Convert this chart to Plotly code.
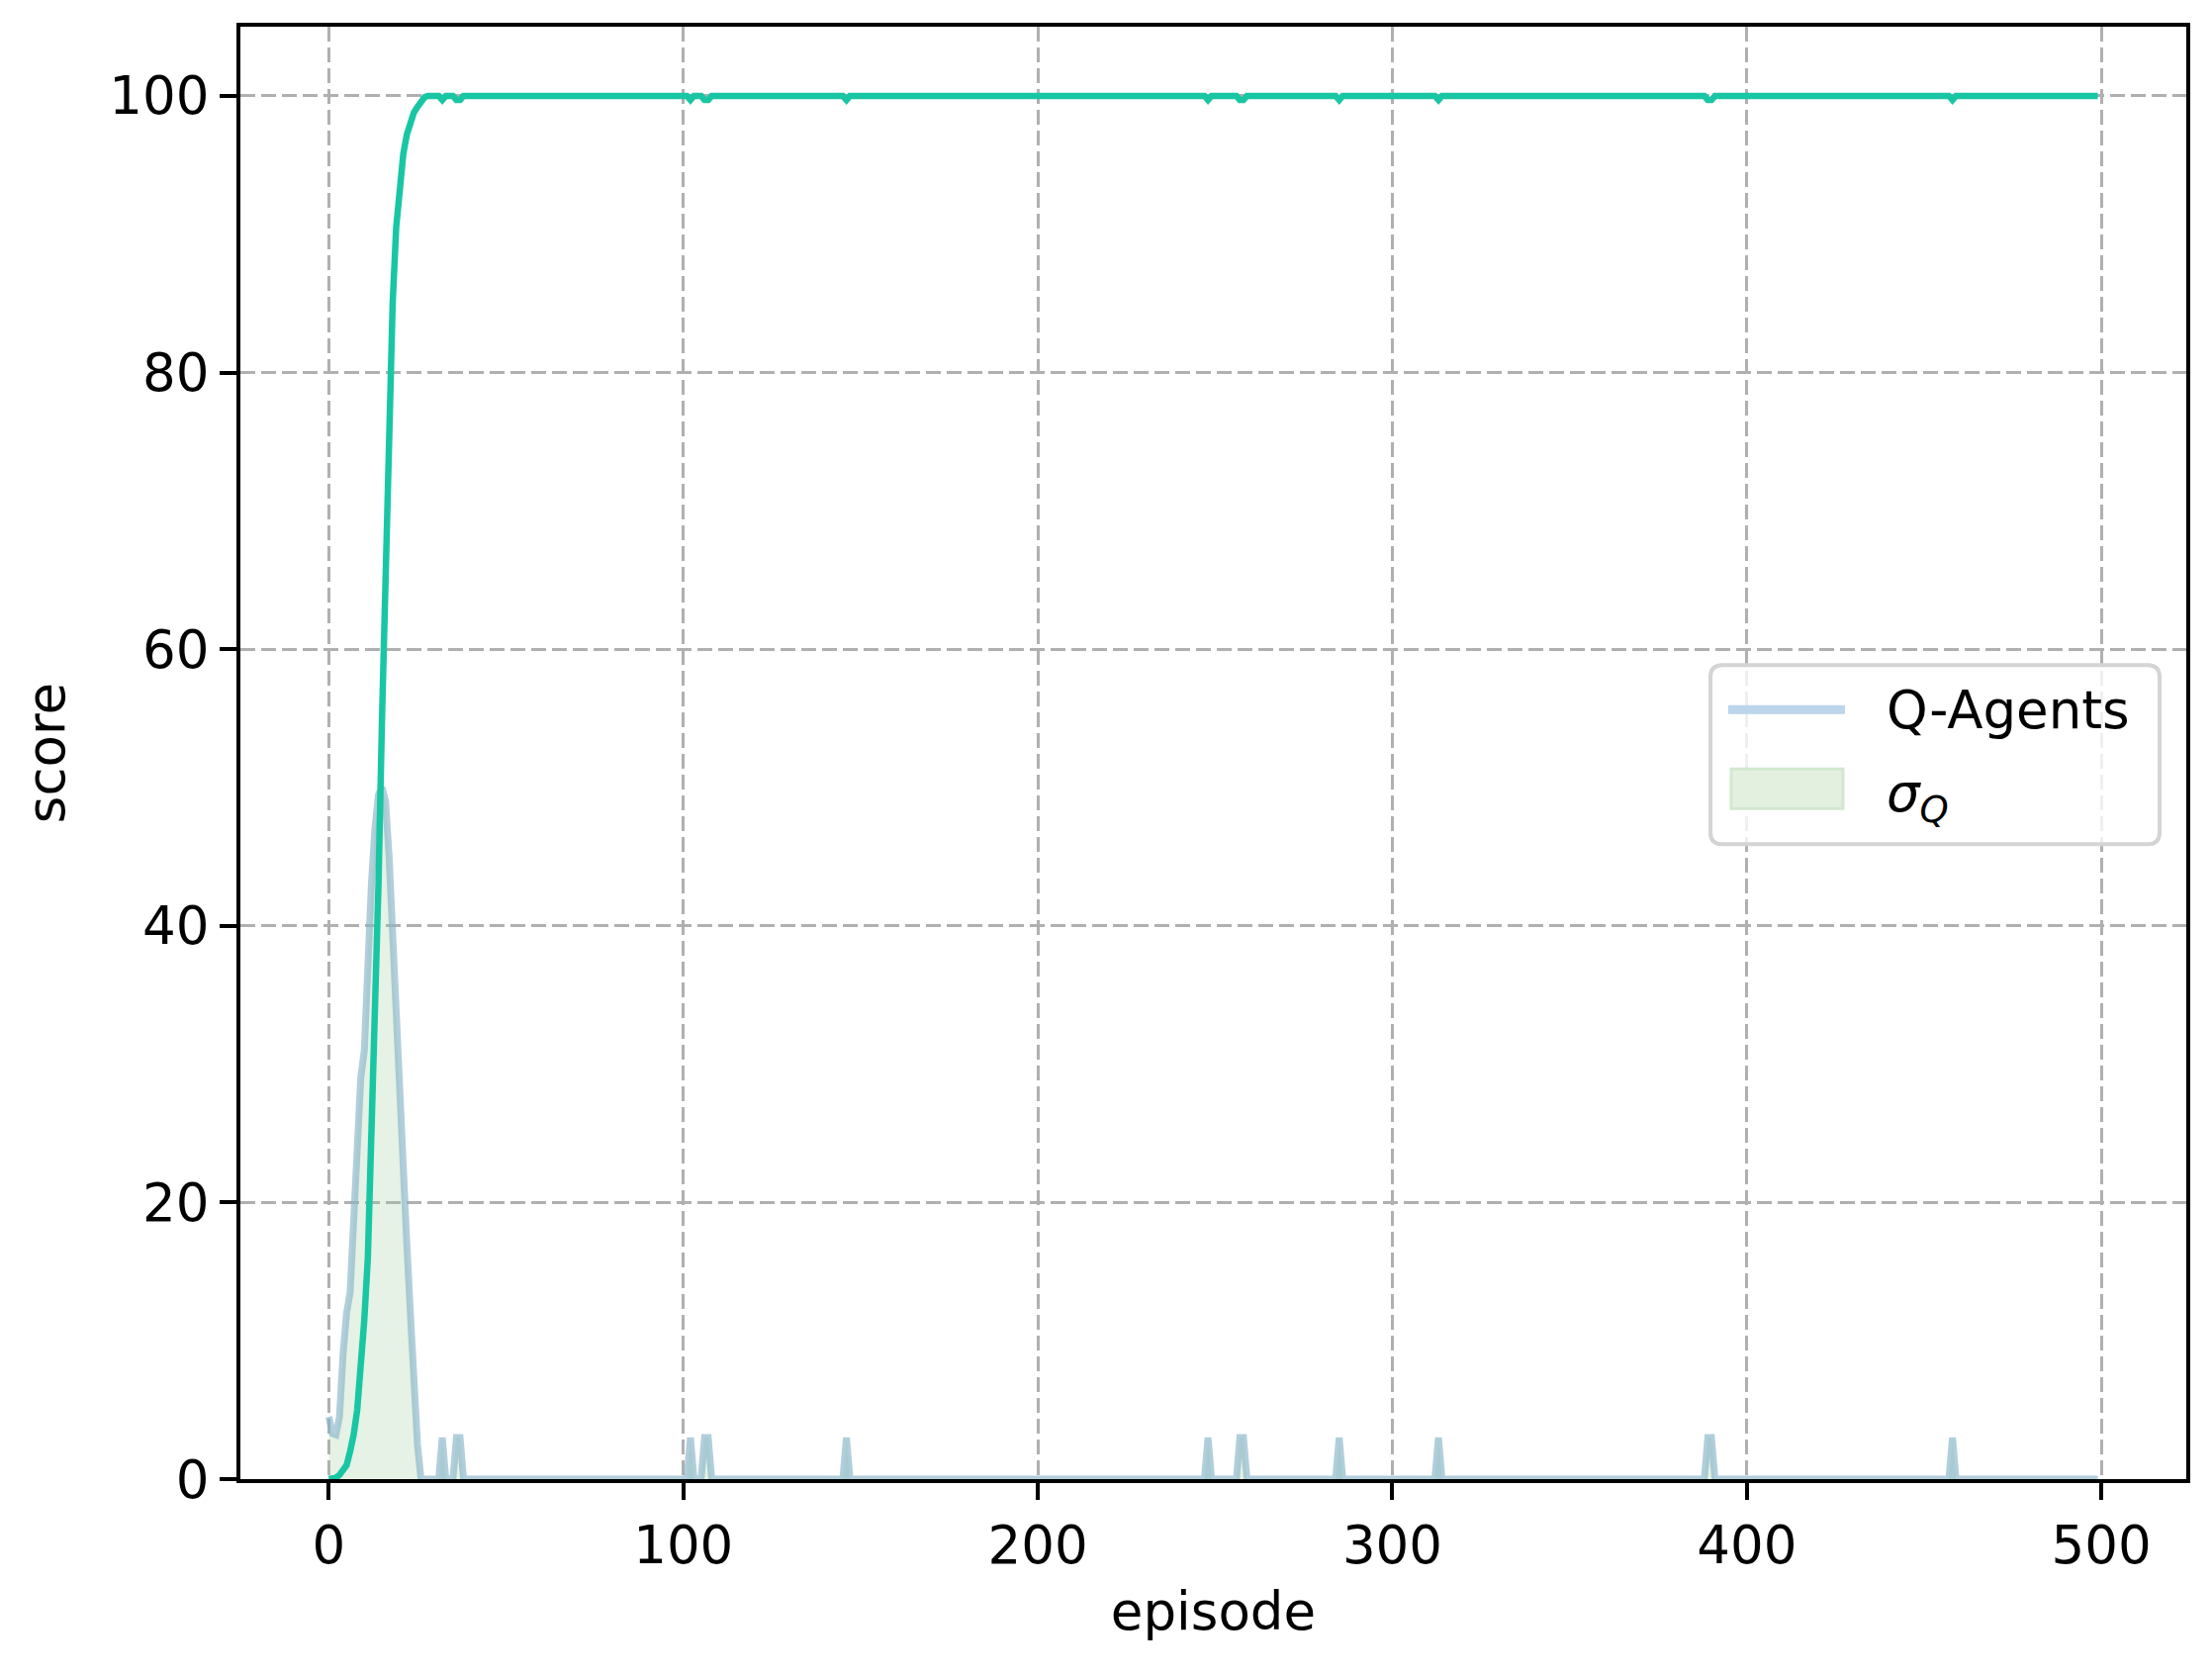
import plotly.graph_objects as go

# ---- data ----
n_episodes = 500
early_mean = [0, 0, 0.1, 0.3, 0.6, 1.0, 2.0, 3.2, 5.0, 8.0, 11.5, 16, 24, 33, 43, 55,
              66, 76, 85, 90.5, 93.5, 95.8, 97.2, 98.2, 98.8, 99.2, 99.6, 99.9]
early_std = [4.5, 3.3, 3.2, 4.5, 9, 12, 13.5, 19, 25, 29, 31, 38, 43, 47, 49.5, 50,
             49, 45, 39, 33, 27, 21, 17, 12, 7, 2.5, 0]
spike_episodes = [32, 36, 37, 102, 106, 107, 146, 248, 257, 258, 285, 313, 389, 390, 458]
spike_std = [3.0] * len(spike_episodes)
spike_mean = [99.7] * len(spike_episodes)

episodes = list(range(n_episodes))
mean_score = [100.0] * n_episodes
std_score = [0.0] * n_episodes
for i, v in enumerate(early_mean):
    mean_score[i] = v
for i, v in enumerate(early_std):
    std_score[i] = v
for e, s, m in zip(spike_episodes, spike_std, spike_mean):
    std_score[e] = s
    mean_score[e] = m

x_ticks = [0, 100, 200, 300, 400, 500]
y_ticks = [0, 20, 40, 60, 80, 100]
legend_labels = ["Q-Agents", "<i>σ<sub>Q</sub></i>"]

FONT = "DejaVu Sans"
FS = 53
OFF = 8  # page body margin
W, H = 2236 - OFF, 1694 - OFF
# plot area in screenshot pixels
PL, PR, PT, PB = 243, 2210, 27, 1494.6

LINE_COL = "rgba(135,180,200,0.65)"
FILL_COL = "rgba(150,205,150,0.25)"
MEAN_COL = "#19c6a4"

fig = go.Figure()
fig.add_trace(go.Scatter(
    x=episodes, y=std_score, mode="lines", fill="tozeroy",
    fillcolor=FILL_COL, line=dict(width=0, color=FILL_COL),
    showlegend=False, hoverinfo="skip"))
fig.add_trace(go.Scatter(
    x=episodes, y=std_score, mode="lines",
    line=dict(color=LINE_COL, width=7), showlegend=False))
fig.add_trace(go.Scatter(
    x=episodes, y=mean_score, mode="lines",
    line=dict(color=MEAN_COL, width=6.5), showlegend=False))

axis_common = dict(
    showline=True, mirror=True, linecolor="black", linewidth=4,
    ticks="outside", ticklen=17, tickwidth=4, tickcolor="black",
    tickfont=dict(family=FONT, size=FS, color="black"),
    showgrid=True, gridcolor="#b0b0b0", gridwidth=3, griddash="15px,6px",
    zeroline=False,
)

fig.update_layout(
    width=W, height=H,
    margin=dict(l=PL - OFF, r=W - (PR - OFF), t=PT - OFF, b=H - (PB - OFF)),
    paper_bgcolor="white", plot_bgcolor="white",
    font=dict(family=FONT, size=FS, color="black"),
    xaxis=dict(range=[-24.95, 523.95], tickvals=x_ticks,
               title=dict(text="episode", font=dict(family=FONT, size=FS), standoff=20),
               **axis_common),
    yaxis=dict(range=[0, 105], tickvals=y_ticks,
               title=dict(text="score", font=dict(family=FONT, size=FS), standoff=29),
               **axis_common),
    showlegend=False,
)

# ---- hand-built legend (matplotlib style) ----
def pxx(p):
    return (p - PL) / (PR - PL)

def pxy(p):
    return (PB - p) / (PB - PT)

bx0, bx1, by0, by1 = pxx(1729), pxx(2183), pxy(853), pxy(672)
rx, ry = 12 / (PR - PL), 12 / (PB - PT)
path = (f"M {bx0+rx},{by1} L {bx1-rx},{by1} Q {bx1},{by1} {bx1},{by1-ry} "
        f"L {bx1},{by0+ry} Q {bx1},{by0} {bx1-rx},{by0} L {bx0+rx},{by0} "
        f"Q {bx0},{by0} {bx0},{by0+ry} L {bx0},{by1-ry} Q {bx0},{by1} {bx0+rx},{by1} Z")
fig.add_shape(type="path", path=path, xref="paper", yref="paper",
              fillcolor="rgba(255,255,255,0.8)", line=dict(color="#d4d4d4", width=4),
              layer="above")
fig.add_shape(type="line", xref="paper", yref="paper",
              x0=pxx(1747), x1=pxx(1865), y0=pxy(717), y1=pxy(717),
              line=dict(color="#bcd5ea", width=9), layer="above")
fig.add_shape(type="rect", xref="paper", yref="paper",
              x0=pxx(1750), x1=pxx(1863), y0=pxy(817), y1=pxy(777),
              fillcolor="#e3f0e0", line=dict(color="#d2e8cf", width=3), layer="above")
fig.add_annotation(text=legend_labels[0], xref="paper", yref="paper",
                   x=pxx(1905), y=pxy(717), xanchor="left", yanchor="middle",
                   showarrow=False, font=dict(family=FONT, size=FS, color="black"))
fig.add_annotation(text=legend_labels[1], xref="paper", yref="paper",
                   x=pxx(1905), y=pxy(805), xanchor="left", yanchor="middle",
                   showarrow=False, font=dict(family=FONT, size=FS, color="black"))

fig.write_html("out.html")
